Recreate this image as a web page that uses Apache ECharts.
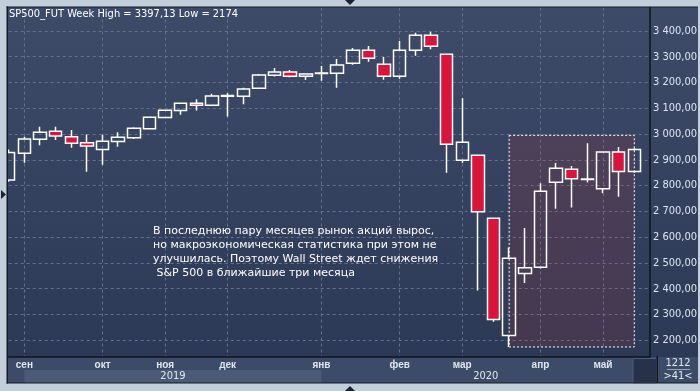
<!DOCTYPE html>
<html><head><meta charset="utf-8">
<script src="https://cdn.jsdelivr.net/npm/echarts@6/dist/echarts.min.js"></script>
<style>html,body{margin:0;padding:0;background:#c3cedb;}#c{width:700px;height:391px;}</style>
</head><body><div id="c"></div>
<script>
// ---- data ----
const weeks = ['2019-08-26','2019-09-02','2019-09-09','2019-09-16','2019-09-23','2019-09-30','2019-10-07','2019-10-14','2019-10-21','2019-10-28','2019-11-04','2019-11-11','2019-11-18','2019-11-25','2019-12-02','2019-12-09','2019-12-16','2019-12-23','2019-12-27','2019-12-30','2020-01-02','2020-01-06','2020-01-13','2020-01-20','2020-01-27','2020-02-03','2020-02-10','2020-02-17','2020-02-24','2020-03-02','2020-03-09','2020-03-16','2020-03-23','2020-03-30','2020-04-06','2020-04-13','2020-04-20','2020-04-27','2020-05-04','2020-05-11','2020-05-18'];
const opens  = [2822,2926,2980,3011,2990,2966,2940,2971,2986,3021,3064,3091,3120,3112,3147,3147,3178,3228,3241,3224,3235,3236,3275,3325,3271,3224,3325,3383,3310,2898,2918,2673,2218,2459,2483,2813,2863,2824,2788,2930,2855];
const closes = [2928,2981,3007,2992,2964,2954,2972,2988,3023,3065,3092,3120,3112,3148,3150,3175,3229,3241,3224,3233,3237,3268,3325,3294,3224,3325,3383,3341,2960,2968,2699,2281,2518,2481,2778,2867,2827,2826,2930,2855,2940];
const lows   = [2815,2889,2957,2977,2947,2854,2881,2951,2981,3018,3062,3075,3091,3110,3068,3116,3176,3223,3220,3210,3207,3180,3269,3281,3211,3215,3304,3329,2850,2889,2393,2272,2174,2422,2478,2710,2715,2812,2770,2757,2850];
const highs  = [2940,2990,3028,3028,3016,2998,2997,3007,3026,3066,3094,3122,3135,3156,3158,3180,3233,3256,3249,3236,3264,3291,3334,3342,3299,3361,3393,3397.13,3313,3139,2920,2676,2560,2636,2809,2888,2876,2964,2932,2950,2945];
const priceTicks = [2200,2300,2400,2500,2600,2700,2800,2900,3000,3100,3200,3300,3400];
const monthNames = ['янв','фев','мар','апр','май','июн','июл','авг','сен','окт','ноя','дек'];
const zoneStart = '2020-03-23', zoneEnd = '2020-05-18';
const zoneLow = 2174, zoneHigh = 2995;
const noteLines = ['В последнюю пару месяцев рынок акций вырос,','но макроэкономическая статистика при этом не','улучшилась. Поэтому Wall Street ждет снижения',' S&P 500 в ближайшие три месяца'];
const symbolName = 'SP500_FUT', periodName = 'Week';
const cornerTop = '1212';

// ---- helpers ----
const cats = weeks.concat(['']);
const candles = opens.map((o,i)=>[o, closes[i], lows[i], highs[i]]);
const monthStart = cats.map((d,i)=> i>0 && d && weeks[i-1] && d.slice(5,7)!==weeks[i-1].slice(5,7));
function fmtPrice(v){ const n=Math.round(v); const th=Math.floor(n/1000), r=n%1000; return (th? th+' '+String(r).padStart(3,'0') : String(r))+',00'; }
function fmtNum(v){ return String(v).replace('.',','); }
const hi = Math.max(...highs), lo = Math.min(...lows);
const NARROW = "'Liberation Sans Narrow','DejaVu Sans Condensed',sans-serif";
const gridL = 8.7, gridR = 657.3, gridT = 7.5, gridB = 356.5;

const chart = echarts.init(document.getElementById('c'), null, {renderer:'canvas'});
chart.setOption({
  animation:false,
  backgroundColor:'#c3cedb',
  title:{text: symbolName+' '+periodName+' High = '+fmtNum(hi)+' Low = '+fmtNum(lo), left:9, top:9, padding:0,
    textStyle:{color:'#ffffff', fontSize:11, fontWeight:'normal', fontFamily:NARROW}},
  grid:{left:gridL, right:700-gridR, top:gridT, bottom:391-gridB},
  xAxis:{type:'category', data:cats, boundaryGap:false,
    axisLine:{show:true, lineStyle:{color:'#0f141e', width:1.5}},
    axisTick:{show:false},
    axisLabel:{interval:(i)=>monthStart[i], formatter:(v)=> monthNames[parseInt(v.slice(5,7),10)-1], color:'#dfe6ef', fontSize:10, fontWeight:'bold', fontFamily:'Liberation Sans', margin:4},
    splitLine:{show:true, interval:(i)=>monthStart[i], lineStyle:{color:'#62718e', type:[3,3], width:1}}
  },
  yAxis:{type:'value', position:'right', min:2137, max:3491, scale:true,
    axisLine:{show:true, lineStyle:{color:'#0f141e', width:1.5}},
    axisTick:{show:false, customValues:priceTicks},
    axisLabel:{customValues:priceTicks, formatter:fmtPrice, color:'#dce5f2', fontSize:11, fontFamily:NARROW, margin:3},
    splitLine:{show:true, lineStyle:{color:'#62718e', type:[3,3], width:1}}
  },
  series:[
    {type:'candlestick', data:candles, barWidth:13, z:3,
      itemStyle:{color:'rgba(0,0,0,0)', color0:'#dc143c', borderColor:'#ffffff', borderColor0:'#ffffff', borderWidth:1.5},
      markLine:{silent:true, symbol:'none', data:[{yAxis: closes[closes.length-1]}], lineStyle:{opacity:0},
        label:{show:true, position:'end', distance:2, formatter:(p)=>fmtPrice(p.value), backgroundColor:'#c8cdd4', color:'#111', fontSize:11, fontFamily:NARROW, padding:[1,3,0,3]}}
    },
    {type:'line', data:[], z:6, silent:true,
      markArea:{silent:true, itemStyle:{color:'rgba(190,52,50,0.16)', borderColor:'#ffffff', borderWidth:1, borderType:[2,2]},
        data:[[{xAxis:zoneStart, yAxis:zoneHigh},{xAxis:zoneEnd, yAxis:zoneLow}]]}
    }
  ]
});

// ---- decorations positioned through the axis scale ----
const px = (i)=> chart.convertToPixel({xAxisIndex:0}, i);
const starts = []; monthStart.forEach((m,i)=>{ if(m) starts.push(i); });
const yearBands = [];
let cur = null;
starts.forEach(i=>{ const y = cats[i].slice(0,4); if(!cur || cur.year!==y){ if(cur) cur.to = i; cur = {year:y, from:i}; yearBands.push(cur);} });
if(cur) cur.to = cats.length-1;
const g = [];
g.push({type:'rect', z:-10, shape:{x:7,y:7,width:691,height:376}, style:{fill:new echarts.graphic.LinearGradient(0,0,0,1,[{offset:0,color:'#3d4b69'},{offset:1,color:'#2b3854'}])}});
g.push({type:'rect', z:-9, shape:{x:8,y:357,width:690,height:26}, style:{fill:'#3c4b68'}});
yearBands.forEach((b,k)=>{
  const x0 = px(b.from), x1 = px(b.to);
  if(k%2===0) g.push({type:'rect', z:-8, shape:{x:x0,y:370,width:x1-x0,height:13}, style:{fill:'#4a5a77'}});
  g.push({type:'text', z:5, style:{text:b.year, x:(x0+x1)/2, y:376.5, align:'center', verticalAlign:'middle', fill:'#e2e8f0', fontSize:11, fontFamily:NARROW}});
});
g.push({type:'rect', z:-7, shape:{x:633,y:358.5,width:23.5,height:24.5}, style:{fill:'#27324a', stroke:'#4c5b76', lineWidth:1}});
g.push({type:'rect', z:40, shape:{x:656.5,y:356,width:1.5,height:27}, style:{fill:'#0f141e'}});
g.push({type:'text', z:5, style:{text:cornerTop, x:678, y:363.5, align:'center', verticalAlign:'middle', fill:'#e2e8f0', fontSize:11, fontFamily:NARROW}});
g.push({type:'rect', z:5, shape:{x:667,y:369,width:23,height:1}, style:{fill:'#9aa6ba'}});
g.push({type:'text', z:5, style:{text:'>'+weeks.length+'<', x:678, y:376, align:'center', verticalAlign:'middle', fill:'#e2e8f0', fontSize:11, fontFamily:NARROW}});
// annotation
g.push({type:'text', z:20, style:{text:noteLines.join('\n'), x:153, y:224.5, fill:'#ffffff', fontSize:11, fontFamily:'DejaVu Sans', lineHeight:13.8}});
// outer frame
const FR = '#c3cedb', DK = '#151b28';
g.push({type:'rect', z:50, shape:{x:0,y:0,width:7,height:391}, style:{fill:FR}});
g.push({type:'rect', z:50, shape:{x:0,y:0,width:700,height:6.5}, style:{fill:FR}});
g.push({type:'rect', z:50, shape:{x:698,y:0,width:2,height:391}, style:{fill:FR}});
g.push({type:'rect', z:50, shape:{x:0,y:383.5,width:700,height:7.5}, style:{fill:FR}});
g.push({type:'rect', z:51, shape:{x:6.5,y:6.5,width:1.5,height:377}, style:{fill:DK}});
g.push({type:'rect', z:51, shape:{x:6.5,y:6.5,width:691.5,height:1}, style:{fill:DK}});
g.push({type:'rect', z:51, shape:{x:6.5,y:382.5,width:691.5,height:1}, style:{fill:DK}});
g.push({type:'polygon', z:52, shape:{points:[[1,190],[6,194.5],[1,199]]}, style:{fill:'#1a2233'}});
g.push({type:'polygon', z:52, shape:{points:[[345,0],[355,0],[350,5]]}, style:{fill:'#1a2233'}});
g.push({type:'polygon', z:52, shape:{points:[[345,391],[355,391],[350,386]]}, style:{fill:'#1a2233'}});
chart.setOption({graphic:g});
</script></body></html>
